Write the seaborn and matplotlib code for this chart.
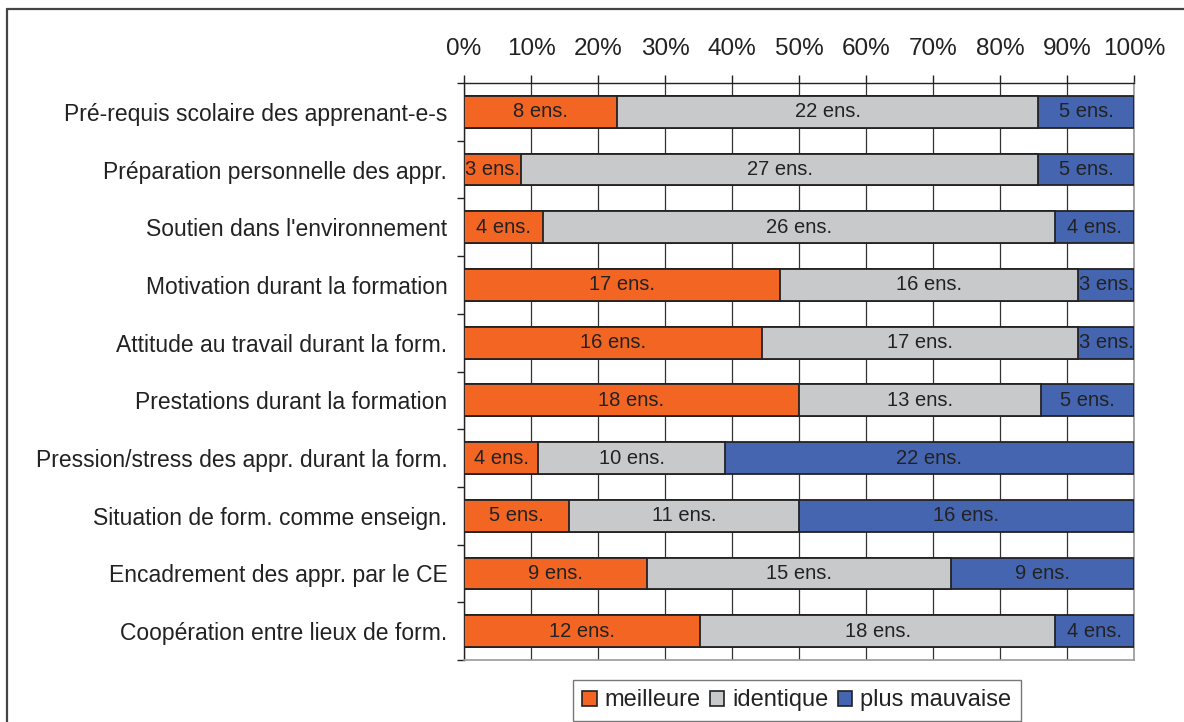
import numpy as np
import pandas as pd
import matplotlib
matplotlib.use("Agg")
import matplotlib.pyplot as plt
from matplotlib.lines import Line2D
from matplotlib.patches import Patch
from matplotlib.ticker import FixedLocator, PercentFormatter
import seaborn as sns

# data (number of teachers per answer)
categories = [
    "Pré-requis scolaire des apprenant-e-s",
    "Préparation personnelle des appr.",
    "Soutien dans l'environnement",
    "Motivation durant la formation",
    "Attitude au travail durant la form.",
    "Prestations durant la formation",
    "Pression/stress des appr. durant la form.",
    "Situation de form. comme enseign.",
    "Encadrement des appr. par le CE",
    "Coopération entre lieux de form.",
]
meilleure = [8, 3, 4, 17, 16, 18, 4, 5, 9, 12]
identique = [22, 27, 26, 16, 17, 13, 10, 11, 15, 18]
mauvaise = [5, 5, 4, 3, 3, 5, 22, 16, 9, 4]
series_names = ["meilleure", "identique", "plus mauvaise"]
colors = ["#F26522", "#C8C9CB", "#4565B0"]

counts = np.array([meilleure, identique, mauvaise], dtype=float)
pct = counts / counts.sum(axis=0) * 100
cum = pct.cumsum(axis=0)

sns.set_theme(style="white")
plt.rcParams["font.family"] = ["Liberation Sans", "DejaVu Sans"]

fig = plt.figure(figsize=(11.84, 7.22), dpi=100)
ax = fig.add_axes([0.3919, 0.0859, 0.5659, 0.7991])

# stacked bars: draw cumulative totals from the back to the front
for k in [2, 1, 0]:
    df = pd.DataFrame({"cat": categories, "val": cum[k]})
    sns.barplot(data=df, x="val", y="cat", orient="h", color=colors[k],
                width=0.55, edgecolor="#222222", linewidth=1.3,
                saturation=1, ax=ax, zorder=3)

# count labels in the middle of each segment
for k in range(3):
    starts = cum[k] - pct[k]
    for i, cat in enumerate(categories):
        ax.text(starts[i] + pct[k][i] / 2, i, f"{int(counts[k][i])} ens.",
                ha="center", va="center", fontsize=14.5, color="#222222",
                zorder=5)

ax.set_xlim(0, 100)
ax.set_ylim(len(categories) - 0.5, -0.5)
ax.set_xlabel("")
ax.set_ylabel("")

ax.xaxis.set_major_locator(FixedLocator(np.arange(0, 101, 10)))
ax.xaxis.set_major_formatter(PercentFormatter(decimals=0))
ax.xaxis.tick_top()
ax.tick_params(axis="x", which="major", top=True, bottom=False, length=6,
               width=1, color="#222222", labelsize=17.5, pad=10.5,
               labelcolor="#222222", direction="out")
ax.grid(axis="x", color="#333333", linewidth=0.9, zorder=0)
ax.set_axisbelow(True)

ax.yaxis.set_minor_locator(FixedLocator(np.arange(-0.5, len(categories), 1)))
ax.tick_params(axis="y", which="major", left=False, length=0, labelsize=16.5,
               pad=12, labelcolor="#222222")
ax.tick_params(axis="y", which="minor", left=True, length=5, width=1,
               color="#222222", direction="out")

for side in ["top", "left"]:
    ax.spines[side].set_color("#222222")
    ax.spines[side].set_linewidth(1.0)
for side in ["bottom", "right"]:
    ax.spines[side].set_color("#999999")
    ax.spines[side].set_linewidth(1.2)
    ax.spines[side].set_visible(True)

handles = [Patch(facecolor=c, edgecolor="#222222", linewidth=1.2) for c in colors]
leg = fig.legend(handles, series_names, loc="center", ncol=3,
                 bbox_to_anchor=(0.673, 0.030), fontsize=17, frameon=True,
                 fancybox=False, edgecolor="#555555", handlelength=0.6,
                 handleheight=0.6, handletextpad=0.34, columnspacing=0.4,
                 borderpad=0.4)
leg.get_frame().set_linewidth(1.0)
for t in leg.get_texts():
    t.set_color("#222222")

# outer frame (left and top edges visible)
fig.add_artist(Line2D([7 / 1184, 7 / 1184], [0, 1 - 9 / 722],
                      transform=fig.transFigure, color="#444444", lw=1.6))
fig.add_artist(Line2D([7 / 1184, 1], [1 - 9 / 722, 1 - 9 / 722],
                      transform=fig.transFigure, color="#444444", lw=1.6))

fig.savefig("out.png", dpi=100)
